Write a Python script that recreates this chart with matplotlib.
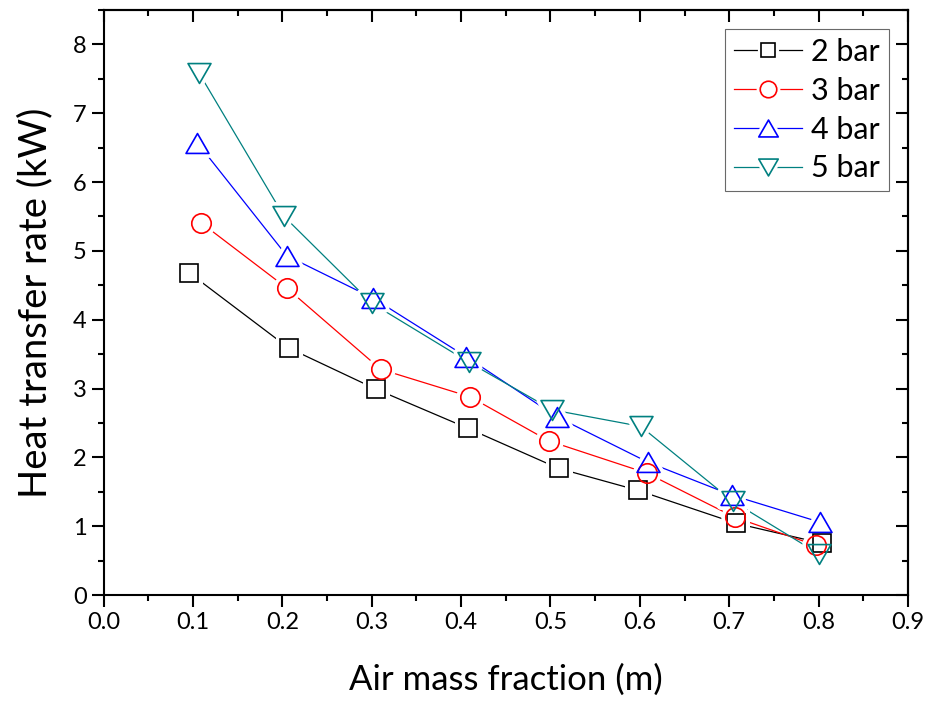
import matplotlib
matplotlib.use("Agg")
import matplotlib.pyplot as plt
from matplotlib.ticker import MultipleLocator
from matplotlib.path import Path
from matplotlib.lines import Line2D
from matplotlib.legend_handler import HandlerTuple

plt.rcParams['font.family'] = ['Lato', 'DejaVu Sans']

# Data
x_2bar = [0.096, 0.207, 0.305, 0.408, 0.509, 0.598, 0.708, 0.804]
y_2bar = [4.68, 3.59, 2.99, 2.42, 1.84, 1.52, 1.04, 0.75]

x_3bar = [0.109, 0.205, 0.310, 0.410, 0.498, 0.608, 0.706, 0.797]
y_3bar = [5.41, 4.46, 3.28, 2.88, 2.24, 1.77, 1.13, 0.72]

x_4bar = [0.105, 0.205, 0.302, 0.406, 0.507, 0.609, 0.703, 0.801]
y_4bar = [6.57, 4.93, 4.31, 3.46, 2.59, 1.93, 1.45, 1.06]

x_5bar = [0.107, 0.202, 0.300, 0.409, 0.502, 0.601, 0.704, 0.800]
y_5bar = [7.58, 5.50, 4.24, 3.38, 2.69, 2.45, 1.36, 0.60]

labels = ["2 bar", "3 bar", "4 bar", "5 bar"]
colors = ["black", "red", "blue", "#008080"]

up_tri = Path([(0, 0.5), (-0.577, -0.5), (0.577, -0.5), (0, 0.5)],
              [Path.MOVETO, Path.LINETO, Path.LINETO, Path.CLOSEPOLY])
down_tri = Path([(0, -0.5), (-0.577, 0.5), (0.577, 0.5), (0, -0.5)],
                [Path.MOVETO, Path.LINETO, Path.LINETO, Path.CLOSEPOLY])

fig = plt.figure(figsize=(9.31, 7.08), dpi=100)
ax = fig.add_axes([0.1112, 0.1596, 0.9753 - 0.1112, 0.9859 - 0.1596])

series = [
    (x_2bar, y_2bar, 's', 12.5),
    (x_3bar, y_3bar, 'o', 14),
    (x_4bar, y_4bar, up_tri, 16.5),
    (x_5bar, y_5bar, down_tri, 16.5),
]
halo_w = 6.5
# lines first
for (xs, ys, mk, ms), c in zip(series, colors):
    ax.plot(xs, ys, color=c, lw=0.9, zorder=2)
# white halos to create gaps in the lines around markers
for (xs, ys, mk, ms), c in zip(series, colors):
    ax.plot(xs, ys, ls='none', marker=mk, markersize=ms,
            markerfacecolor='white', markeredgecolor='white',
            markeredgewidth=halo_w, zorder=3)
# markers
for (xs, ys, mk, ms), c in zip(series, colors):
    ax.plot(xs, ys, ls='none', marker=mk, markersize=ms,
            markerfacecolor='none', markeredgecolor=c, markeredgewidth=1.2,
            zorder=4)

ax.set_xlim(0, 0.9)
ax.set_ylim(0, 8.5)
ax.xaxis.set_major_locator(MultipleLocator(0.1))
ax.xaxis.set_minor_locator(MultipleLocator(0.05))
ax.yaxis.set_major_locator(MultipleLocator(1))
ax.yaxis.set_minor_locator(MultipleLocator(0.5))
ax.set_xticks([0.0, 0.1, 0.2, 0.3, 0.4, 0.5, 0.6, 0.7, 0.8, 0.9])
ax.set_xticklabels(["0.0", "0.1", "0.2", "0.3", "0.4", "0.5", "0.6", "0.7", "0.8", "0.9"])
ax.set_yticks([0, 1, 2, 3, 4, 5, 6, 7, 8])

for s in ax.spines.values():
    s.set_linewidth(1.5)

ax.tick_params(axis='both', which='major', direction='out', length=8.5, width=1.5,
               labelsize=17, top=False, right=False)
ax.tick_params(axis='both', which='minor', direction='out', length=4.5, width=1.5,
               top=False, right=False)

# inward ticks on top and right
axt = ax.secondary_xaxis('top')
axt.xaxis.set_major_locator(MultipleLocator(0.1))
axt.xaxis.set_minor_locator(MultipleLocator(0.05))
axt.tick_params(which='major', direction='in', length=8.5, width=1.5, labeltop=False)
axt.tick_params(which='minor', direction='in', length=4.5, width=1.5)
axt.spines['top'].set_linewidth(1.5)
axr = ax.secondary_yaxis('right')
axr.yaxis.set_major_locator(MultipleLocator(1))
axr.yaxis.set_minor_locator(MultipleLocator(0.5))
axr.tick_params(which='major', direction='in', length=8.5, width=1.5, labelright=False)
axr.tick_params(which='minor', direction='in', length=4.5, width=1.5)
axr.spines['right'].set_linewidth(1.5)

ax.set_xlabel("Air mass fraction (m)", fontsize=25, labelpad=22)
ax.set_ylabel("Heat transfer rate (kW)", fontsize=27.5, labelpad=14)

# legend handles: line with gap + marker
handles = []
for (xs, ys, mk, ms), c in zip(series, colors):
    lms = ms * 0.85
    h_line = Line2D([], [], color=c, lw=0.9)
    h_halo = Line2D([], [], ls='none', marker=mk, markersize=lms,
                    markerfacecolor='white', markeredgecolor='white',
                    markeredgewidth=halo_w * 0.8)
    h_mk = Line2D([], [], ls='none', marker=mk, markersize=lms,
                  markerfacecolor='none', markeredgecolor=c, markeredgewidth=1.2)
    handles.append((h_line, h_halo, h_mk))

leg = ax.legend(handles, labels, handler_map={tuple: HandlerTuple(ndivide=1, pad=0)},
                loc='upper right', bbox_to_anchor=(0.976, 0.9675), borderaxespad=0,
                fontsize=22, frameon=True, fancybox=False, edgecolor='#444444',
                handlelength=2.2, handletextpad=0.3, borderpad=0.3,
                labelspacing=0.35)
leg.get_frame().set_linewidth(0.8)

fig.savefig("out.png", dpi=100)
